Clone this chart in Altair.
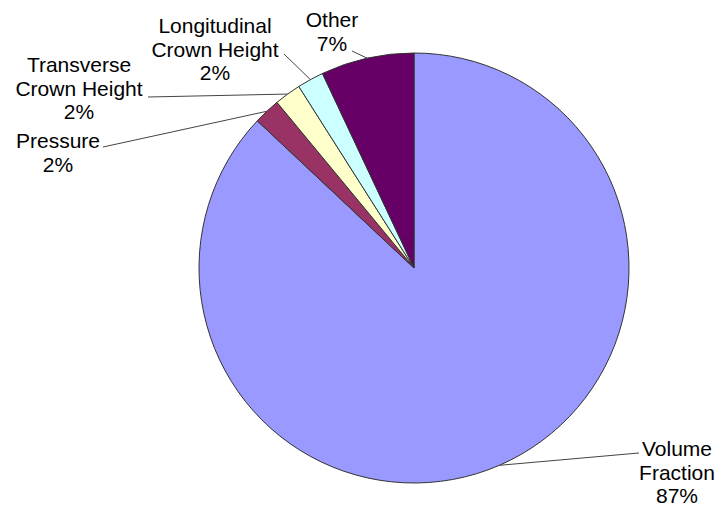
import altair as alt
import pandas as pd

# Slice data, in clockwise order starting at 12 o'clock
names = ["Volume Fraction", "Pressure", "Transverse Crown Height",
         "Longitudinal Crown Height", "Other"]
label_lines = ["Volume\nFraction", "Pressure", "Transverse\nCrown Height",
               "Longitudinal\nCrown Height", "Other"]
values = [87, 2, 2, 2, 7]
colors = ["#9999FF", "#993366", "#FFFFCC", "#CCFFFF", "#660066"]

# Layout (pixels): pie geometry, label anchors and leader-line ends
CX, CY, R = 414, 268, 215
label_x = [677, 58, 79, 215, 332]
label_y = [456, 148, 72, 33, 27]
leader_x = [639, 103, 148, 284, 352]
leader_y = [453, 147, 97, 54, 51]

df = pd.DataFrame({
    "idx": list(range(len(names))),
    "name": names,
    "value": values,
    "text": [f"{l}\n{v}%" for l, v in zip(label_lines, values)],
    "tx": label_x,
    "ty": label_y,
    "lx": leader_x,
    "ly": leader_y,
})

base = alt.Chart(df)

pie = base.mark_arc(outerRadius=R, stroke="#333333", strokeWidth=1).encode(
    theta=alt.Theta("value:Q", stack=True),
    color=alt.Color("name:N", scale=alt.Scale(domain=names, range=colors), legend=None),
    order=alt.Order("idx:Q"),
    x=alt.value(CX),
    y=alt.value(CY),
)

# Leader lines start on the rim at each slice's mid-angle
leaders = base.transform_window(
    cum="sum(value)", sort=[alt.SortField("idx")]
).transform_joinaggregate(
    total="sum(value)"
).transform_calculate(
    mid=f"(datum.cum - datum.value / 2) / datum.total * 2 * PI",
).transform_calculate(
    px=f"{CX} + {R} * sin(datum.mid)",
    py=f"{CY} - {R} * cos(datum.mid)",
).mark_rule(color="#444444", strokeWidth=1).encode(
    x=alt.X("px:Q", scale=None, axis=None),
    y=alt.Y("py:Q", scale=None, axis=None),
    x2="lx:Q",
    y2="ly:Q",
)

labels = base.mark_text(
    align="center", baseline="alphabetic", font="Liberation Sans",
    fontSize=21, lineBreak="\n", lineHeight=23.5, color="black",
).encode(
    x=alt.X("tx:Q", scale=None, axis=None),
    y=alt.Y("ty:Q", scale=None, axis=None),
    text="text:N",
)

chart = alt.layer(pie, leaders, labels).properties(
    width=723, height=515,
    autosize=alt.AutoSizeParams(type="none"),
    padding=0,
    background="white",
).configure_view(stroke=None)

chart.save("out.html", embed_options={"renderer": "svg", "actions": False})
